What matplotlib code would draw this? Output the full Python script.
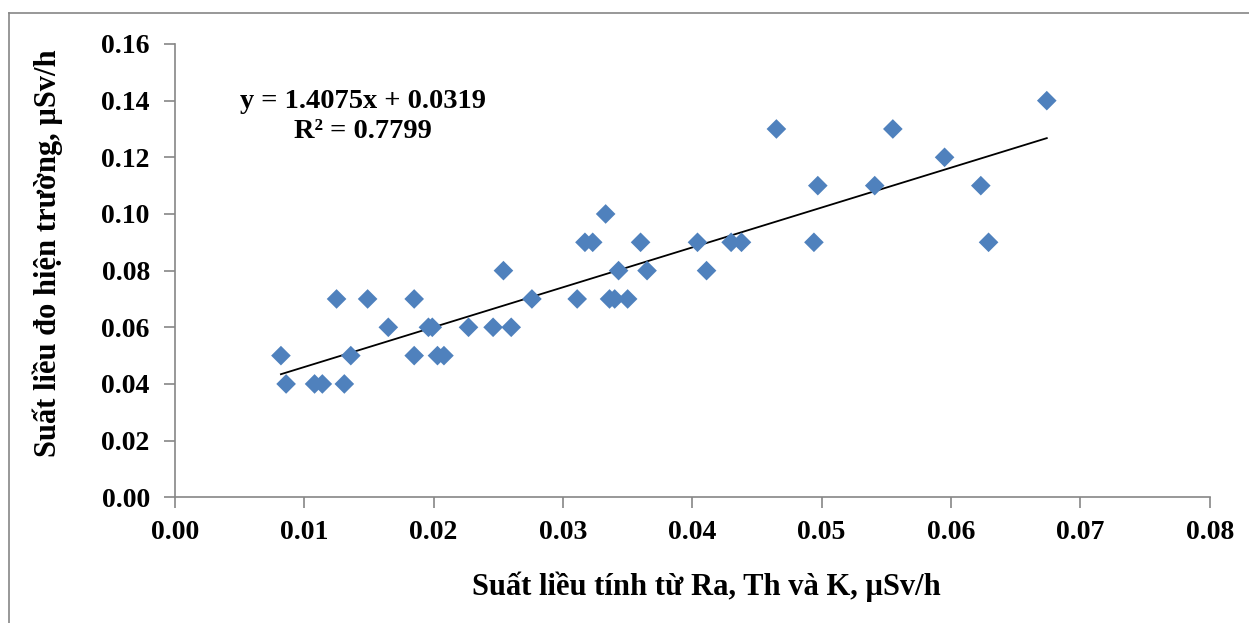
import matplotlib
matplotlib.use('Agg')
import matplotlib.pyplot as plt
import numpy as np
from matplotlib.lines import Line2D

# ── Data ──────────────────────────────────────────────────────────────────────
x_calc = [0.0082, 0.0086, 0.0108, 0.0114, 0.0125, 0.0131, 0.0136, 0.0149,
          0.0165, 0.0185, 0.0185, 0.0196, 0.0199, 0.0203, 0.0208, 0.0227,
          0.0246, 0.0254, 0.0260, 0.0276, 0.0311, 0.0317, 0.0323, 0.0333,
          0.0336, 0.0340, 0.0343, 0.0350, 0.0360, 0.0365, 0.0404, 0.0411,
          0.0430, 0.0438, 0.0465, 0.0494, 0.0497, 0.0541, 0.0555, 0.0595,
          0.0623, 0.0629, 0.0674]
y_field = [0.05, 0.04, 0.04, 0.04, 0.07, 0.04, 0.05, 0.07,
           0.06, 0.07, 0.05, 0.06, 0.06, 0.05, 0.05, 0.06,
           0.06, 0.08, 0.06, 0.07, 0.07, 0.09, 0.09, 0.10,
           0.07, 0.07, 0.08, 0.07, 0.09, 0.08, 0.09, 0.08,
           0.09, 0.09, 0.13, 0.09, 0.11, 0.11, 0.13, 0.12,
           0.11, 0.09, 0.14]

slope, intercept, r2 = 1.4075, 0.0319, 0.7799

x_ticks = [0.00, 0.01, 0.02, 0.03, 0.04, 0.05, 0.06, 0.07, 0.08]
y_ticks = [0.00, 0.02, 0.04, 0.06, 0.08, 0.10, 0.12, 0.14, 0.16]

MARKER_COL = '#4F81BD'
AXIS_COL = '#868686'
W, H = 1249, 623

plt.rcParams['font.family'] = ['Liberation Serif', 'DejaVu Serif']
plt.rcParams['font.weight'] = 'bold'

fig = plt.figure(figsize=(W / 100, H / 100), dpi=100)
ax = fig.add_axes([0.140, 0.2018, 0.8286, 0.7276])

ax.scatter(x_calc, y_field, marker='D', s=100, color=MARKER_COL,
           edgecolors='none', zorder=3)

xs = np.array([min(x_calc), max(x_calc)])
ax.plot(xs, slope * xs + intercept, color='black', lw=1.3, zorder=2)

ax.set_xlim(0, 0.08)
ax.set_ylim(0, 0.16)
ax.set_xticks(x_ticks)
ax.set_yticks(y_ticks)
ax.set_xticklabels([f'{v:.2f}' for v in x_ticks])
ax.set_yticklabels([f'{v:.2f}' for v in y_ticks])
ax.tick_params(axis='both', labelsize=20, color=AXIS_COL, length=8,
               width=1.2, direction='out')
ax.tick_params(axis='x', pad=8)
ax.tick_params(axis='y', pad=10)
for lab in ax.get_xticklabels() + ax.get_yticklabels():
    lab.set_fontweight('bold')

for side in ['top', 'right']:
    ax.spines[side].set_visible(False)
for side in ['left', 'bottom']:
    ax.spines[side].set_color(AXIS_COL)
    ax.spines[side].set_linewidth(1.2)

# axis titles, placed where they sit in the reference
fig.text(706 / W, 1 - 587 / H, 'Suất liều tính từ Ra, Th và K, µSv/h',
         fontsize=22, fontweight='bold', ha='center', va='center')
fig.text(48 / W, 1 - 253 / H, 'Suất liều đo hiện trường, µSv/h',
         fontsize=22, fontweight='bold', ha='center', va='center',
         rotation=90)

ax.text(0.01454, 0.1398, f'y = {slope}x + {intercept}', fontsize=20.5,
        fontweight='bold', ha='center', va='center')
ax.text(0.01454, 0.1290, f'R² = {r2}', fontsize=20.5,
        fontweight='bold', ha='center', va='center')

# outer chart frame (only left and top are visible in the crop)
fig.add_artist(Line2D([9 / W, 9 / W], [0, 1 - 13 / H],
                      transform=fig.transFigure, color=AXIS_COL, lw=1.2))
fig.add_artist(Line2D([9 / W, 1], [1 - 13 / H, 1 - 13 / H],
                      transform=fig.transFigure, color=AXIS_COL, lw=1.2))

fig.savefig('out.png', dpi=100)
